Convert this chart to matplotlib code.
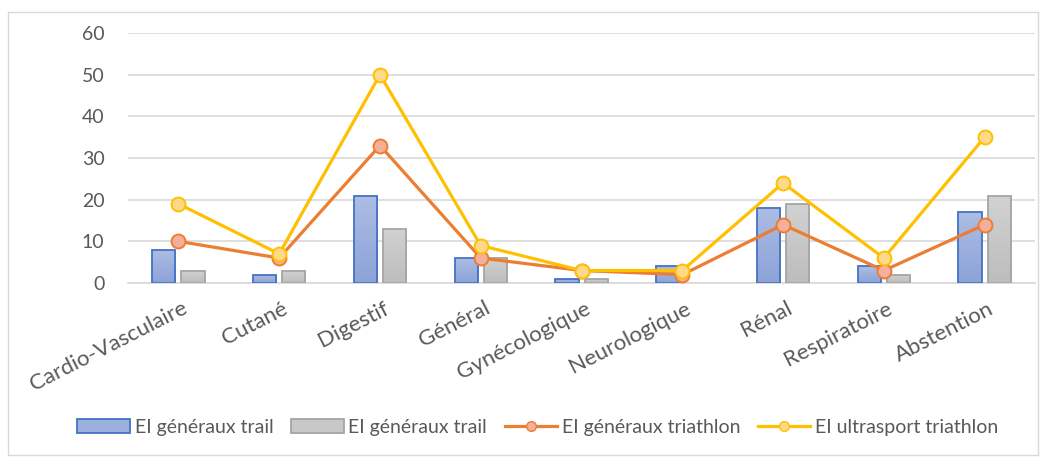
import matplotlib
matplotlib.use("Agg")
import matplotlib.pyplot as plt
import matplotlib.transforms as mtransforms
import numpy as np
from matplotlib.lines import Line2D
from matplotlib.patches import Patch, Rectangle
from matplotlib.colors import LinearSegmentedColormap

categories = ["Cardio-Vasculaire", "Cutané", "Digestif", "Général", "Gynécologique",
              "Neurologique", "Rénal", "Respiratoire", "Abstention"]
trail_blue = [8, 2, 21, 6, 1, 4, 18, 4, 17]
trail_grey = [3, 3, 13, 6, 1, 0, 19, 2, 21]
triathlon_gen = [10, 6, 33, 6, 3, 2, 14, 3, 14]
ultrasport_tri = [19, 7, 50, 9, 3, 3, 24, 6, 35]
yticks = [0, 10, 20, 30, 40, 50, 60]
legend_labels = ["EI généraux trail", "EI généraux trail", "EI généraux triathlon",
                 "EI ultrasport triathlon"]

plt.rcParams['font.family'] = ['Lato', 'DejaVu Sans']

fig = plt.figure(figsize=(10.46, 4.57), dpi=100)
ax = fig.add_axes([0.1224, 0.3807, 0.8671, 0.5471])

# outer frame
fig.patches.append(Rectangle((8/1046, 1-455/457), 1030/1046, 443/457, transform=fig.transFigure,
                             fill=False, edgecolor='#d9d9d9', linewidth=1.0))

x = np.arange(len(categories))
w = 0.23
off = 0.145


def gradient_bars(xpos, heights, top_col, bot_col, edge):
    bars = ax.bar(xpos, heights, width=w, color='none', edgecolor=edge, linewidth=1.3, zorder=3)
    grad = np.linspace(0, 1, 64).reshape(-1, 1)
    cmap = LinearSegmentedColormap.from_list('g', [bot_col, top_col])
    for b in bars:
        h = b.get_height()
        if h <= 0:
            b.set_linewidth(0)
            continue
        bx, by = b.get_x(), b.get_y()
        im = ax.imshow(grad, extent=(bx, bx + b.get_width(), by, by + h), origin='lower',
                       cmap=cmap, aspect='auto', zorder=2)
        im.set_clip_path(b)
    return bars


gradient_bars(x - off, trail_blue, '#adbde4', '#8ca3d8', '#4472c4')
gradient_bars(x + off, trail_grey, '#d2d2d2', '#bdbdbd', '#a5a5a5')
ax.plot(x, triathlon_gen, color='#ed7d31', linewidth=2.3, marker='o', markersize=10,
        markerfacecolor='#f4b09a', markeredgecolor='#ed7d31', markeredgewidth=1.4, zorder=4)
ax.plot(x, ultrasport_tri, color='#ffc000', linewidth=2.3, marker='o', markersize=10,
        markerfacecolor='#ffd98a', markeredgecolor='#ffc000', markeredgewidth=1.4, zorder=5)

ax.set_xlim(-0.5, len(categories) - 0.5)
ax.set_ylim(0, 60)
ax.set_yticks(yticks)
ax.set_yticklabels([str(v) for v in yticks], fontsize=14, color='#595959')
ax.yaxis.grid(True, color='#d9d9d9', linewidth=1.2, zorder=0)
ax.set_axisbelow(True)
for s in ['top', 'right', 'left']:
    ax.spines[s].set_visible(False)
ax.spines['bottom'].set_color('#d9d9d9')
ax.spines['bottom'].set_linewidth(1.2)
ax.tick_params(axis='y', length=0, pad=17)
ax.tick_params(axis='x', length=0, pad=11)
ax.set_xticks(x)
ax.set_xticklabels(categories, rotation=27, ha='right', rotation_mode='anchor',
                   fontsize=16, color='#595959')
shift = mtransforms.ScaledTranslation(3/100, 0, fig.dpi_scale_trans)
for lbl in ax.get_xticklabels():
    lbl.set_transform(lbl.get_transform() + shift)

handles = [
    Patch(facecolor='#9cb0dd', edgecolor='#4472c4', linewidth=1.3),
    Patch(facecolor='#c8c8c8', edgecolor='#a5a5a5', linewidth=1.3),
    Line2D([0], [0], color='#ed7d31', linewidth=2.3, marker='o', markersize=7,
           markerfacecolor='#f4b09a', markeredgecolor='#ed7d31'),
    Line2D([0], [0], color='#ffc000', linewidth=2.3, marker='o', markersize=7,
           markerfacecolor='#ffd98a', markeredgecolor='#ffc000'),
]
leg = fig.legend(handles, legend_labels, loc='center', bbox_to_anchor=(538/1046, 1-427/457),
                 ncol=4, frameon=False, fontsize=14, handlelength=2.7, handletextpad=0.25,
                 columnspacing=0.9)
for t in leg.get_texts():
    t.set_color('#595959')

fig.savefig('out.png', dpi=100)
